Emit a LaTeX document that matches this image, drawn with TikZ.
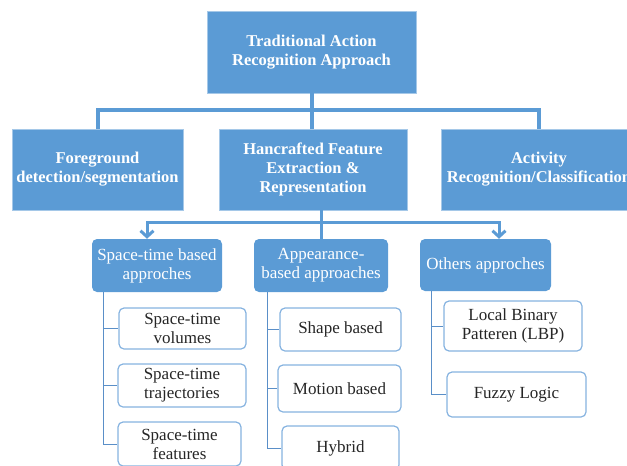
\documentclass[tikz,border=0pt]{standalone}
\usepackage{fontspec}
\setmainfont{Liberation Serif}
\usetikzlibrary{arrows.meta}
\definecolor{mblue}{HTML}{5B9BD5}
\definecolor{lblue}{HTML}{86B3E0}
\definecolor{dblue}{HTML}{5A8FC8}
\begin{document}
\begin{tikzpicture}[x=1pt,y=-1pt,
  big/.style={fill=mblue, draw=mblue!55!white, line width=0.6pt, text=white,
    font=\bfseries\fontsize{16.5}{19}\selectfont, align=center, inner sep=0pt},
  mid/.style={fill=mblue, rounded corners=5pt, text=white,
    font=\fontsize{17}{19}\selectfont, align=center, inner sep=0pt},
  leaf/.style={fill=white, draw=lblue, line width=1.2pt, rounded corners=5pt,
    font=\fontsize{17}{19}\selectfont, align=center, inner sep=0pt, text=black!85},
  connA/.style={draw=mblue, line width=4pt},
  connB/.style={draw=mblue, line width=3pt},
  arr/.style={-{Straight Barb[length=6pt,width=13pt]}},
  branch/.style={draw=dblue, line width=1pt}]
\useasboundingbox (0,0) rectangle (627,466);
\clip (0,0) rectangle (627,466);
% level 0
\node[big, minimum width=209pt, minimum height=82pt] (top) at (311.5,52) {Traditional Action\\Recognition Approach};
% level 1
\node[big, minimum width=171pt, minimum height=81pt] (fg) at (97.5,169.5) {Foreground\\detection/segmentation};
\node[big, minimum width=188pt, minimum height=81pt] (hf) at (313,169.5) {Hancrafted Feature\\Extraction \&\\Representation};
\node[big, minimum width=196pt, minimum height=81pt] (act) at (539,169.5) {Activity\\Recognition/Classification};
% connectors level 0 -> 1
\draw[connA] (top.south) -- ++(0,17) coordinate (j1);
\draw[connA] (fg.north) |- (j1) -| (act.north);
\draw[connA] (j1) -- (j1 |- hf.north);
% level 2
\node[mid, minimum width=130pt, minimum height=53pt] (st) at (157,265.5) {Space-time based\\approches};
\node[mid, minimum width=134pt, minimum height=53pt] (app) at (321,265.5) {Appearance-\\based approaches};
\node[mid, minimum width=131pt, minimum height=52pt] (oth) at (485.5,265) {Others approches};
% connectors level 1 -> 2
\coordinate (h0) at ([xshift=8pt]hf.south);
\draw[connB] (h0) -- ++(0,12) coordinate (j2);
\draw[connB] (j2) -- (j2 |- app.north);
\draw[connB, arr] (j2) -| ([xshift=-10pt]st.north);
\draw[connB, arr] (j2) -| ([xshift=13.5pt]oth.north);
% leaves
\node[leaf, minimum width=127pt, minimum height=41pt] (vol) at (182.5,328.5) {Space-time\\volumes};
\node[leaf, minimum width=128pt, minimum height=43pt] (traj) at (182,385.5) {Space-time\\trajectories};
\node[leaf, minimum width=123pt, minimum height=44pt] (feat) at (179.5,444) {Space-time\\features};
\node[leaf, minimum width=121pt, minimum height=43pt] (shape) at (340.5,329.5) {Shape based};
\node[leaf, minimum width=123pt, minimum height=47pt] (motion) at (339.5,388.5) {Motion based};
\node[leaf, minimum width=117pt, minimum height=44pt] (hyb) at (340.5,448) {Hybrid};
\node[leaf, minimum width=138pt, minimum height=50pt] (lbp) at (513,326) {Local Binary\\Patteren (LBP)};
\node[leaf, minimum width=139pt, minimum height=45pt] (fuzzy) at (516.5,394.5) {Fuzzy Logic};
% branches
\draw[branch] ([xshift=12pt]st.south west) |- (vol.west);
\draw[branch] ([xshift=12pt]st.south west) |- (traj.west);
\draw[branch] ([xshift=12pt]st.south west) |- (feat.west);
\draw[branch] ([xshift=14pt]app.south west) |- (shape.west);
\draw[branch] ([xshift=14pt]app.south west) |- (motion.west);
\draw[branch] ([xshift=14pt]app.south west) |- (hyb.west);
\draw[branch] ([xshift=12pt]oth.south west) |- (lbp.west);
\draw[branch] ([xshift=12pt]oth.south west) |- (fuzzy.west);
\end{tikzpicture}
\end{document}
